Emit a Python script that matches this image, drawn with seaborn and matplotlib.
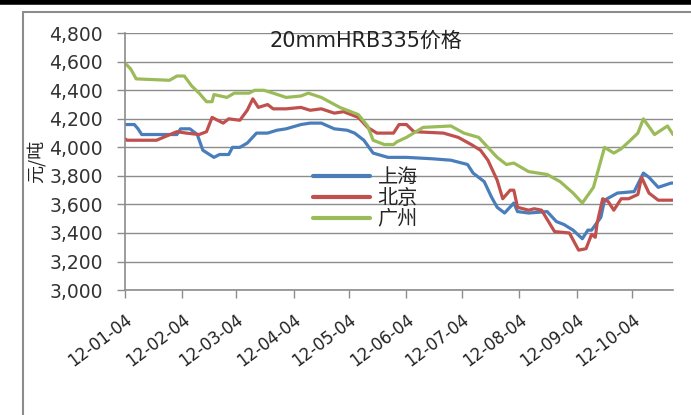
import pandas as pd
import matplotlib.pyplot as plt
import matplotlib.dates as mdates
from matplotlib.ticker import FuncFormatter
from matplotlib.lines import Line2D
import seaborn as sns

# 上海
sh_dates = ['2012-01-04', '2012-01-09', '2012-01-11', '2012-01-13', '2012-02-01', '2012-02-03',
            '2012-02-08', '2012-02-12', '2012-02-15', '2012-02-21', '2012-02-24', '2012-02-29',
            '2012-03-02', '2012-03-06', '2012-03-10', '2012-03-15', '2012-03-21', '2012-03-26',
            '2012-03-31', '2012-04-08', '2012-04-13', '2012-04-19', '2012-04-26', '2012-05-03',
            '2012-05-07', '2012-05-12', '2012-05-17', '2012-05-25', '2012-06-04', '2012-06-18',
            '2012-06-28', '2012-07-07', '2012-07-10', '2012-07-16', '2012-07-20', '2012-07-23',
            '2012-07-27', '2012-08-01', '2012-08-03', '2012-08-09', '2012-08-19', '2012-08-24',
            '2012-08-28', '2012-09-02', '2012-09-07', '2012-09-10', '2012-09-12', '2012-09-17',
            '2012-09-19', '2012-09-26', '2012-10-05', '2012-10-10', '2012-10-13', '2012-10-18',
            '2012-10-25', '2012-10-26']
sh_vals = [4160, 4160, 4130, 4090, 4090, 4130,
           4130, 4090, 3980, 3930, 3950, 3950,
           4000, 4000, 4030, 4100, 4100, 4120,
           4130, 4160, 4170, 4170, 4130, 4120,
           4100, 4050, 3960, 3930, 3930, 3920,
           3910, 3880, 3820, 3760, 3650, 3580,
           3540, 3610, 3550, 3540, 3550, 3480,
           3460, 3420, 3360, 3420, 3420, 3510,
           3630, 3680, 3690, 3820, 3790, 3720,
           3750, 3750]

# 北京
bj_dates = ['2012-01-04', '2012-01-05', '2012-01-21', '2012-02-01', '2012-02-06', '2012-02-13',
            '2012-02-17', '2012-02-20', '2012-02-26', '2012-02-29', '2012-03-06', '2012-03-10',
            '2012-03-13', '2012-03-16', '2012-03-21', '2012-03-24', '2012-03-31', '2012-04-08',
            '2012-04-13', '2012-04-19', '2012-04-26', '2012-05-01', '2012-05-09', '2012-05-14',
            '2012-05-19', '2012-05-28', '2012-05-31', '2012-06-04', '2012-06-08', '2012-06-24',
            '2012-07-02', '2012-07-09', '2012-07-14', '2012-07-18', '2012-07-23', '2012-07-26',
            '2012-07-30', '2012-08-01', '2012-08-03', '2012-08-09', '2012-08-12', '2012-08-16',
            '2012-08-23', '2012-08-31', '2012-09-05', '2012-09-09', '2012-09-12', '2012-09-14',
            '2012-09-15', '2012-09-18', '2012-09-21', '2012-09-24', '2012-09-28', '2012-10-02',
            '2012-10-07', '2012-10-09', '2012-10-13', '2012-10-18', '2012-10-26']
bj_vals = [4060, 4050, 4050, 4110, 4100, 4090,
           4110, 4210, 4170, 4200, 4190, 4260,
           4340, 4280, 4300, 4270, 4270, 4280,
           4260, 4270, 4240, 4250, 4210, 4140,
           4100, 4100, 4160, 4160, 4110, 4100,
           4070, 4020, 3980, 3910, 3770, 3640,
           3700, 3700, 3580, 3560, 3570, 3560,
           3410, 3400, 3280, 3290, 3390, 3370,
           3470, 3640, 3620, 3560, 3640, 3640,
           3670, 3790, 3680, 3630, 3630]

# 广州
gz_dates = ['2012-01-04', '2012-01-07', '2012-01-10', '2012-01-28', '2012-02-01', '2012-02-05',
            '2012-02-09', '2012-02-13', '2012-02-17', '2012-02-20', '2012-02-21', '2012-02-28',
            '2012-03-03', '2012-03-11', '2012-03-14', '2012-03-19', '2012-03-24', '2012-03-31',
            '2012-04-08', '2012-04-12', '2012-04-19', '2012-04-29', '2012-05-09', '2012-05-14',
            '2012-05-17', '2012-05-23', '2012-05-28', '2012-05-30', '2012-06-04', '2012-06-13',
            '2012-06-28', '2012-07-05', '2012-07-13', '2012-07-18', '2012-07-23', '2012-07-28',
            '2012-08-01', '2012-08-09', '2012-08-19', '2012-08-26', '2012-09-02', '2012-09-07',
            '2012-09-13', '2012-09-19', '2012-09-24', '2012-09-28', '2012-10-03', '2012-10-07',
            '2012-10-10', '2012-10-16', '2012-10-23', '2012-10-26']
gz_vals = [4590, 4550, 4480, 4470, 4500, 4500,
           4430, 4380, 4320, 4320, 4370, 4350,
           4380, 4380, 4400, 4400, 4380, 4350,
           4360, 4380, 4350, 4280, 4230, 4150,
           4050, 4020, 4020, 4040, 4070, 4140,
           4150, 4100, 4070, 4000, 3930, 3880,
           3890, 3830, 3810, 3760, 3680, 3610,
           3720, 4000, 3960, 3990, 4050, 4100,
           4200, 4090, 4150, 4090]

cities = ['上海', '北京', '广州']
colors = ['#4A7EBB', '#C0504D', '#9BBB59']
tick_dates = ['2012-01-04', '2012-02-04', '2012-03-04', '2012-04-04', '2012-05-04',
              '2012-06-04', '2012-07-04', '2012-08-04', '2012-09-04', '2012-10-04']
title = '20mmHRB335价格'
ylabel = '元/吨'

frames = []
for name, d, v in zip(cities, [sh_dates, bj_dates, gz_dates], [sh_vals, bj_vals, gz_vals]):
    frames.append(pd.DataFrame({'date': pd.to_datetime(d), 'price': v, 'city': name}))
df = pd.concat(frames, ignore_index=True)

sns.set_theme(style='white')
plt.rcParams['font.family'] = ['DejaVu Sans', 'Noto Sans CJK SC']

fig = plt.figure(figsize=(6.91, 4.15), dpi=100)
ax = fig.add_axes([0.181, 0.301, 0.793, 0.619])

sns.lineplot(data=df, x='date', y='price', hue='city', hue_order=cities,
             palette=colors, linewidth=2.3, ax=ax, legend=False)

ax.set_ylim(3000, 4800)
ax.set_yticks(range(3000, 4801, 200))
ax.yaxis.set_major_formatter(FuncFormatter(lambda v, p: f'{int(v):,}'))
ax.set_xlim(pd.Timestamp('2012-01-04'), pd.Timestamp('2012-10-26'))
ax.set_xticks(pd.to_datetime(tick_dates))
ax.xaxis.set_major_formatter(mdates.DateFormatter('%y-%m-%d'))

ax.grid(axis='y', color='#8c8c8c', linewidth=1)
ax.set_axisbelow(True)
for s in ['top', 'right']:
    ax.spines[s].set_visible(False)
for s in ['left', 'bottom']:
    ax.spines[s].set_color('#8c8c8c')
    ax.spines[s].set_linewidth(1.2)
ax.tick_params(axis='both', which='major', direction='out', length=6, width=1, color='#8c8c8c',
               bottom=True, left=True)
ax.tick_params(axis='y', labelsize=13.5, labelcolor='#333333', pad=10)
ax.tick_params(axis='x', labelsize=12, labelcolor='#222222', pad=9)
for lbl in ax.get_xticklabels():
    lbl.set_rotation(37)
    lbl.set_ha('right')
    lbl.set_rotation_mode('anchor')

ax.set_xlabel('')
ax.set_ylabel('')
fig.text(0.053, 0.61, ylabel, rotation=90, fontsize=13, ha='center', va='center',
         color='#222222', family=['Noto Sans CJK SC', 'DejaVu Sans'])
ax.text(0.44, 0.97, title, transform=ax.transAxes, ha='center', va='center',
        fontsize=15, color='#222222')

handles = [Line2D([0], [0], color=c, linewidth=3) for c in colors]
leg = ax.legend(handles, cities, loc='upper left', bbox_to_anchor=(0.325, 0.52),
                frameon=False, fontsize=14.5, handlelength=2.8, handletextpad=0.4,
                labelspacing=0.0, borderpad=0)
for t in leg.get_texts():
    t.set_family(['Noto Sans CJK SC', 'DejaVu Sans'])

# outer frame bits of the original chart image
fig.add_artist(Line2D([0, 1], [0.996, 0.996], transform=fig.transFigure, color='black', linewidth=4))
fig.add_artist(Line2D([0.033, 1], [0.971, 0.971], transform=fig.transFigure, color='#8c8c8c', linewidth=1.5))
fig.add_artist(Line2D([0.033, 0.033], [0.0, 0.971], transform=fig.transFigure, color='#8c8c8c', linewidth=1.5))

fig.savefig('out.png', dpi=100)
